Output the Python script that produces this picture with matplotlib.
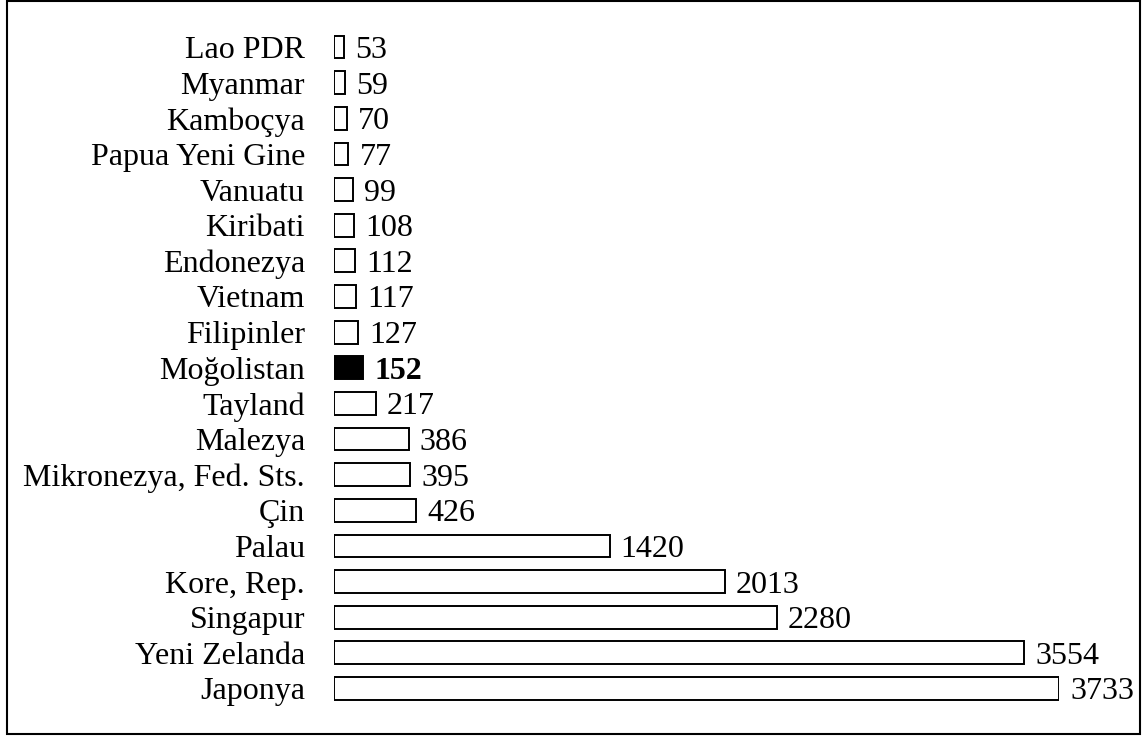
import matplotlib
matplotlib.use("Agg")
import matplotlib.pyplot as plt
from matplotlib.patches import Rectangle

countries = ["Lao PDR", "Myanmar", "Kamboçya", "Papua Yeni Gine", "Vanuatu",
             "Kiribati", "Endonezya", "Vietnam", "Filipinler", "Moğolistan",
             "Tayland", "Malezya", "Mikronezya, Fed. Sts.", "Çin", "Palau",
             "Kore, Rep.", "Singapur", "Yeni Zelanda", "Japonya"]
values = [53, 59, 70, 77, 99, 108, 112, 117, 127, 152,
          217, 386, 395, 426, 1420, 2013, 2280, 3554, 3733]
highlight = "Moğolistan"

plt.rcParams['font.family'] = ['Liberation Serif', 'DejaVu Serif']

W, H = 1147, 737
fig = plt.figure(figsize=(W / 100, H / 100), dpi=100)
left, right = 333.5, 1059.2
top, bottom = 29.2, 706.3
ax = fig.add_axes([left / W, 1 - bottom / H, (right - left) / W, (bottom - top) / H])

ypos = list(range(len(countries)))
colors = ["black" if c == highlight else "white" for c in countries]
ax.barh(ypos, values, height=0.64, color=colors, edgecolor="black", linewidth=1.4)

for y, v, c in zip(ypos, values, countries):
    ax.annotate(str(v), xy=(v, y), xytext=(8, 0), textcoords="offset points",
                ha="left", va="center_baseline", fontsize=23,
                fontweight="bold" if c == highlight else "normal",
                annotation_clip=False)

ax.set_xlim(0, max(values))
ax.set_ylim(len(countries) - 0.5, -0.5)
ax.set_yticks(ypos)
ax.set_yticklabels(countries, fontsize=23, va="center_baseline")
ax.tick_params(axis="y", length=0, pad=20.5)
ax.set_xticks([])
for s in ax.spines.values():
    s.set_visible(False)
ax.patch.set_alpha(0)

fig.patches.append(Rectangle((7 / W, 1 - 734 / H), (1140 - 7) / W, (734 - 1) / H,
                             transform=fig.transFigure, fill=False,
                             edgecolor="black", linewidth=1.5))

fig.savefig("out.png", dpi=100, facecolor="white")
